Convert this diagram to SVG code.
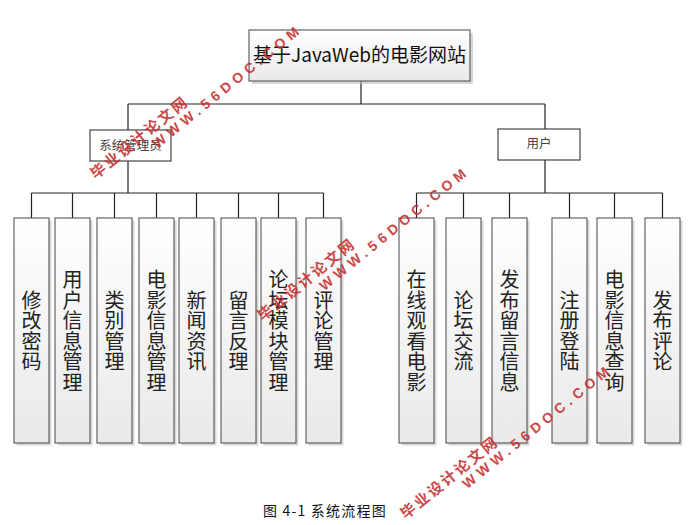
<svg xmlns="http://www.w3.org/2000/svg" width="697" height="525" viewBox="0 0 697 525">
<defs>
<linearGradient id="g" x1="0" y1="0" x2="0" y2="1">
<stop offset="0" stop-color="#ffffff"/>
<stop offset="1" stop-color="#e9e9e9"/>
</linearGradient>
</defs>
<style>
.sh{fill:#b8b8b8;opacity:0.55}
.bx{fill:url(#g);stroke:#555;stroke-width:1.1}
.mb{fill:#fff;stroke:#333;stroke-width:1.1}
.ln{stroke:#222;stroke-width:1.2;fill:none}
.vt{font-family:"Noto Sans CJK SC","Noto Sans",sans-serif;font-size:20px;fill:#222;text-anchor:middle;writing-mode:vertical-rl;letter-spacing:0.5px}
.ttl{font-family:"Noto Sans CJK SC","Noto Sans",sans-serif;font-size:19px;fill:#111;text-anchor:middle}
.sm{font-family:"Noto Sans CJK SC","Noto Sans",sans-serif;font-size:12.5px;fill:#444;text-anchor:middle}
.cap{font-family:"Noto Sans CJK SC","Liberation Mono",monospace;font-size:14px;fill:#111;letter-spacing:1.2px}
.wc{font-family:"Noto Sans CJK SC",sans-serif;font-weight:bold;font-size:15px;letter-spacing:2.3px;fill:#c62f2f;opacity:0.88}
.we{font-family:"Liberation Sans",Arial,sans-serif;font-weight:bold;font-size:14px;letter-spacing:4.8px;fill:#c62f2f;opacity:0.88}
</style>
<rect width="697" height="525" fill="#fff"/>

<g id="connectors">
<path class="ln" d="M361,81V104M128,104H545M128,104V130M545,104V129M128,161V193M545,160V193"/>
<path class="ln" d="M31.5,193H323.5M31.5,193V218M72.5,193V218M114.5,193V218M156.5,193V218M196.5,193V218M238.5,193V218M278.5,193V218M323.5,193V218"/>
<path class="ln" d="M416.5,193H662.5M416.5,193V218M463.5,193V218M509.5,193V218M569.5,193V218M614.5,193V218M662.5,193V218"/>
</g>

<g id="root">
<rect class="sh" x="252" y="33" width="221" height="51"/>
<rect class="bx" x="249" y="30" width="221" height="51"/>
<text class="ttl" x="359.5" y="61.5">基于JavaWeb的电影网站</text>
</g>

<g id="admin">
<rect class="mb" x="90" y="130" width="81" height="31"/>
<text class="sm" x="130.5" y="150">系统管理员</text>
</g>
<g id="user">
<rect class="mb" x="498" y="129" width="82" height="31"/>
<text class="sm" x="539" y="148">用户</text>
</g>

<g id="n1"><rect class="sh" x="16.5" y="220.5" width="35" height="225"/><rect class="bx" x="14" y="218" width="35" height="225"/><text class="vt" x="31.5" y="331">修改密码</text></g>
<g id="n2"><rect class="sh" x="57.5" y="220.5" width="35" height="225"/><rect class="bx" x="55" y="218" width="35" height="225"/><text class="vt" x="72.5" y="331">用户信息管理</text></g>
<g id="n3"><rect class="sh" x="99.5" y="220.5" width="35" height="225"/><rect class="bx" x="97" y="218" width="35" height="225"/><text class="vt" x="114.5" y="331">类别管理</text></g>
<g id="n4"><rect class="sh" x="141.5" y="220.5" width="35" height="225"/><rect class="bx" x="139" y="218" width="35" height="225"/><text class="vt" x="156.5" y="331">电影信息管理</text></g>
<g id="n5"><rect class="sh" x="181.5" y="220.5" width="35" height="225"/><rect class="bx" x="179" y="218" width="35" height="225"/><text class="vt" x="196.5" y="331">新闻资讯</text></g>
<g id="n6"><rect class="sh" x="223.5" y="220.5" width="35" height="225"/><rect class="bx" x="221" y="218" width="35" height="225"/><text class="vt" x="238.5" y="331">留言反理</text></g>
<g id="n7"><rect class="sh" x="263.5" y="220.5" width="35" height="225"/><rect class="bx" x="261" y="218" width="35" height="225"/><text class="vt" x="278.5" y="331">论坛模块管理</text></g>
<g id="n8"><rect class="sh" x="308.5" y="220.5" width="35" height="225"/><rect class="bx" x="306" y="218" width="35" height="225"/><text class="vt" x="323.5" y="331">评论管理</text></g>

<g id="u1"><rect class="sh" x="401.5" y="220.5" width="35" height="225"/><rect class="bx" x="399" y="218" width="35" height="225"/><text class="vt" x="416.5" y="331">在线观看电影</text></g>
<g id="u2"><rect class="sh" x="448.5" y="220.5" width="35" height="225"/><rect class="bx" x="446" y="218" width="35" height="225"/><text class="vt" x="463.5" y="331">论坛交流</text></g>
<g id="u3"><rect class="sh" x="494.5" y="220.5" width="35" height="225"/><rect class="bx" x="492" y="218" width="35" height="225"/><text class="vt" x="509.5" y="331">发布留言信息</text></g>
<g id="u4"><rect class="sh" x="554.5" y="220.5" width="35" height="225"/><rect class="bx" x="552" y="218" width="35" height="225"/><text class="vt" x="569.5" y="331">注册登陆</text></g>
<g id="u5"><rect class="sh" x="599.5" y="220.5" width="35" height="225"/><rect class="bx" x="597" y="218" width="35" height="225"/><text class="vt" x="614.5" y="331">电影信息查询</text></g>
<g id="u6"><rect class="sh" x="647.5" y="220.5" width="35" height="225"/><rect class="bx" x="645" y="218" width="35" height="225"/><text class="vt" x="662.5" y="331">发布评论</text></g>

<text class="cap" x="263" y="516">图 4-1 系统流程图</text>

<g id="watermarks">
<g transform="translate(92,175) rotate(-39)"><text class="wc" x="0" y="6">毕业设计论文网</text><text class="we" x="67" y="21">WWW.56DOC.COM</text></g>
<g transform="translate(259,317) rotate(-39)"><text class="wc" x="0" y="6">毕业设计论文网</text><text class="we" x="67" y="21">WWW.56DOC.COM</text></g>
<g transform="translate(402,515) rotate(-39)"><text class="wc" x="0" y="6">毕业设计论文网</text><text class="we" x="67" y="21">WWW.56DOC.COM</text></g>
</g>
</svg>
